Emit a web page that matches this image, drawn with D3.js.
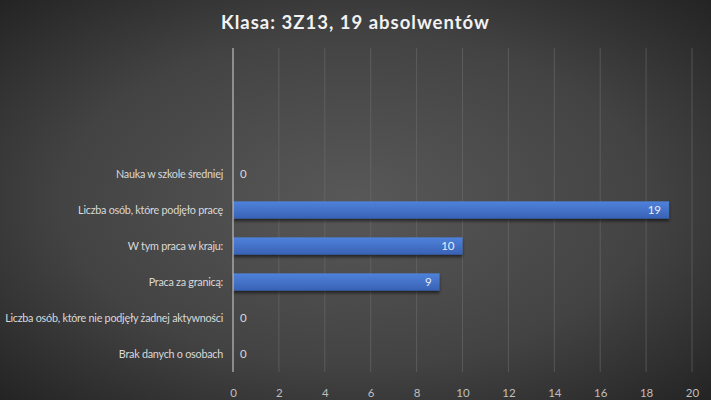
<!DOCTYPE html>
<html>
<head>
<meta charset="utf-8">
<script src="https://cdn.jsdelivr.net/npm/d3@7"></script>
<style>
  html, body { margin: 0; padding: 0; background: #2a2a2a; }
  svg { display: block; }
</style>
</head>
<body>
<svg id="chart" width="711" height="400"></svg>
<script>
// Graduate outcomes for class 3Z13
const title = "Klasa: 3Z13, 19 absolwentów";
const categories = [
  "Nauka w szkole średniej",
  "Liczba osób, które podjęło pracę",
  "W tym praca w kraju:",
  "Praca za granicą:",
  "Liczba osób, które nie podjęły żadnej aktywności",
  "Brak danych o osobach"
];
const values = [0, 19, 10, 9, 0, 0];
const xTicks = [0, 2, 4, 6, 8, 10, 12, 14, 16, 18, 20];

const W = 711, H = 400;
const margin = { top: 48, right: 19, bottom: 28, left: 233 };
const slotCount = 9; // the category axis keeps three empty slots above the data

const svg = d3.select("#chart");
const defs = svg.append("defs");

// dark radial background
const bg = defs.append("radialGradient").attr("id", "bg")
  .attr("cx", "50%").attr("cy", "50%").attr("r", "75%");
bg.append("stop").attr("offset", "0%").attr("stop-color", "#585858");
bg.append("stop").attr("offset", "55%").attr("stop-color", "#434343");
bg.append("stop").attr("offset", "100%").attr("stop-color", "#1f1f1f");
svg.append("rect").attr("width", W).attr("height", H).attr("fill", "url(#bg)");

// bar fill
const barGrad = defs.append("linearGradient").attr("id", "bar")
  .attr("x1", 0).attr("y1", 0).attr("x2", 0).attr("y2", 1);
barGrad.append("stop").attr("offset", "0%").attr("stop-color", "#4f82dc");
barGrad.append("stop").attr("offset", "50%").attr("stop-color", "#4472c8");
barGrad.append("stop").attr("offset", "100%").attr("stop-color", "#3861b4");

const shadow = defs.append("filter").attr("id", "shadow")
  .attr("x", "-5%").attr("y", "-30%").attr("width", "110%").attr("height", "190%");
shadow.append("feDropShadow").attr("dx", 0).attr("dy", 2.5).attr("stdDeviation", 1.6)
  .attr("flood-color", "#000").attr("flood-opacity", 0.55);

const x = d3.scaleLinear().domain([0, 20]).range([margin.left, W - margin.right]);
const y = d3.scaleBand().domain(d3.range(slotCount))
  .range([margin.top, H - margin.bottom]).paddingInner(0.52).paddingOuter(0.26);
const slot = i => slotCount - categories.length + i;

const font = "Lato, 'Open Sans', 'DejaVu Sans', sans-serif";
const labelSize = 10.8;

// title
svg.append("text")
  .attr("x", W / 2).attr("y", 29)
  .attr("text-anchor", "middle")
  .attr("font-family", font).attr("font-weight", "bold")
  .attr("font-size", 18.5).attr("letter-spacing", 1)
  .attr("fill", "#f2f2f2")
  .text(title);

// vertical gridlines
svg.append("g")
  .selectAll("line").data(xTicks.filter(t => t > 0)).join("line")
  .attr("x1", d => x(d)).attr("x2", d => x(d))
  .attr("y1", margin.top).attr("y2", H - margin.bottom)
  .attr("stroke", "#6e6e6e").attr("stroke-width", 1).attr("opacity", 0.55);

// x axis labels
const xAxis = d3.axisBottom(x).tickValues(xTicks).tickSize(0).tickPadding(0);
const gx = svg.append("g").attr("transform", `translate(0,${H - margin.bottom + 17})`).call(xAxis);
gx.select(".domain").remove();
gx.selectAll("text")
  .attr("font-family", font).attr("font-size", 11.5).attr("fill", "#bfbfbf");

// category labels
svg.append("g")
  .selectAll("text").data(categories).join("text")
  .attr("x", x(0) - 10)
  .attr("y", (d, i) => y(slot(i)) + y.bandwidth() / 2)
  .attr("dy", "0.35em")
  .attr("text-anchor", "end")
  .attr("font-family", font).attr("font-size", labelSize)
  .attr("letter-spacing", -0.25)
  .attr("fill", "#d9d9d9")
  .text(d => d);

// bars
svg.append("g")
  .selectAll("rect").data(values).join("rect")
  .attr("x", x(0))
  .attr("y", (d, i) => y(slot(i)))
  .attr("width", d => x(d) - x(0))
  .attr("height", y.bandwidth())
  .attr("fill", "url(#bar)")
  .attr("filter", "url(#shadow)");

// value labels
svg.append("g")
  .selectAll("text").data(values).join("text")
  .attr("x", d => d > 0 ? x(d) - 8 : x(0) + 7)
  .attr("y", (d, i) => y(slot(i)) + y.bandwidth() / 2)
  .attr("dy", "0.36em")
  .attr("text-anchor", d => d > 0 ? "end" : "start")
  .attr("font-family", font).attr("font-size", 11.5)
  .attr("fill", d => d > 0 ? "#e8eefa" : "#d9d9d9")
  .text(d => d);

// category axis line
svg.append("line")
  .attr("x1", x(0)).attr("x2", x(0))
  .attr("y1", margin.top).attr("y2", H - margin.bottom)
  .attr("stroke", "#bfbfbf").attr("stroke-width", 1.2);
</script>
</body>
</html>
